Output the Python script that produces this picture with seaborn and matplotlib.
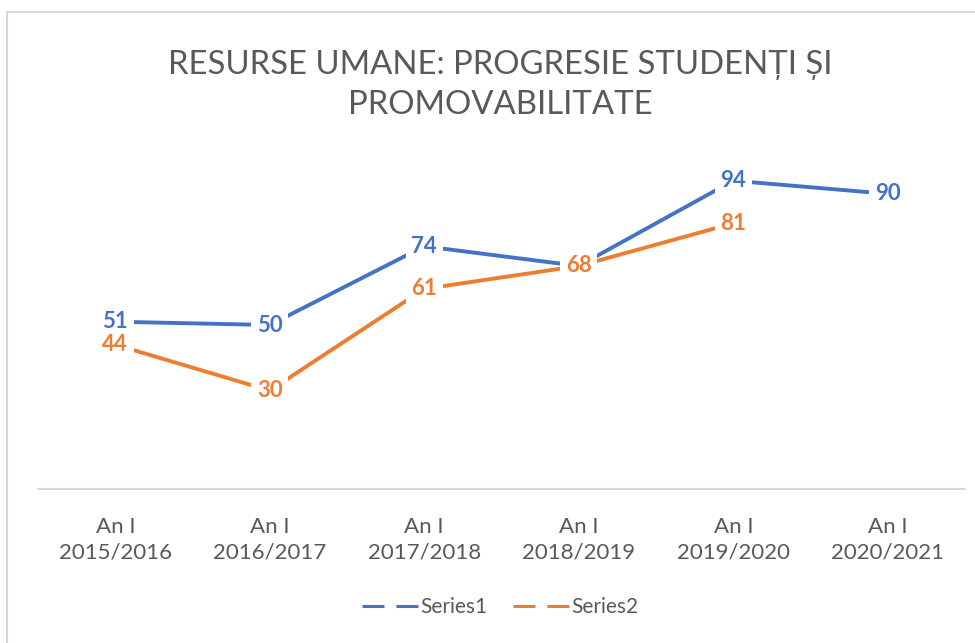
import numpy as np
import pandas as pd
import matplotlib
matplotlib.use("Agg")
import matplotlib.pyplot as plt
from matplotlib.lines import Line2D
import seaborn as sns

# data
years = ["An I\n2015/2016", "An I\n2016/2017", "An I\n2017/2018",
         "An I\n2018/2019", "An I\n2019/2020", "An I\n2020/2021"]
series1 = [51, 50, 74, 68, 94, 90]
series2 = [44, 30, 61, 68, 81, np.nan]
series_names = ["Series1", "Series2"]
colors = ["#4472C4", "#ED7D31"]

sns.set_theme(style="white")
plt.rcParams['font.family'] = ['Lato', 'DejaVu Sans']

df = pd.DataFrame({
    "x": list(range(len(years))) * 2,
    "value": series1 + series2,
    "series": [series_names[0]] * len(years) + [series_names[1]] * len(years),
})

fig = plt.figure(figsize=(9.75, 6.43), dpi=100)
ax = fig.add_axes([38 / 975, 1 - 489 / 643, 927 / 975, 328 / 643])

sns.lineplot(data=df, x="x", y="value", hue="series", palette=colors,
             linewidth=2.8, sort=False, legend=False, ax=ax)

# data labels centred on the points, white box breaks the lines
for vals, col in zip([series1, series2], colors):
    for i, v in enumerate(vals):
        if np.isnan(v):
            continue
        ax.text(i, v, f"{v:.0f}", color=col, fontsize=16, fontweight="bold",
                ha="center", va="center", zorder=5,
                bbox=dict(facecolor="white", edgecolor="none",
                          boxstyle="square,pad=0.25"))

ax.set_xlim(-0.5, len(years) - 0.5)
ax.set_ylim(0, 100)
ax.set_xticks(range(len(years)))
ax.set_xticklabels(years, fontsize=16, color="#595959", linespacing=1.35)
ax.set_yticks([])
ax.set_xlabel("")
ax.set_ylabel("")
ax.tick_params(axis="x", length=0, pad=20)
for side in ["top", "right", "left"]:
    ax.spines[side].set_visible(False)
ax.spines["bottom"].set_color("#D9D9D9")
ax.spines["bottom"].set_linewidth(1.5)

fig.text(0.513, 1 - 85 / 643, "RESURSE UMANE: PROGRESIE STUDENȚI ȘI\nPROMOVABILITATE",
         ha="center", va="center", fontsize=23.7, color="#595959",
         linespacing=1.45)

handles = [Line2D([0], [0], color=c, linewidth=2.2, dashes=(7.2, 3.9))
           for c in colors]
fig.legend(handles, series_names, loc="center", bbox_to_anchor=(0.513, 1 - 607 / 643),
           ncol=2, frameon=False, fontsize=15, handlelength=2.7,
           handletextpad=0.1, columnspacing=1.2, labelcolor="#595959")

# light chart frame
fig.add_artist(Line2D([7 / 975, 7 / 975], [0, 1 - 12 / 643],
                      transform=fig.transFigure, color="#D9D9D9", linewidth=1.5))
fig.add_artist(Line2D([7 / 975, 1], [1 - 12 / 643, 1 - 12 / 643],
                      transform=fig.transFigure, color="#D9D9D9", linewidth=1.5))

fig.savefig("out.png", dpi=100)
